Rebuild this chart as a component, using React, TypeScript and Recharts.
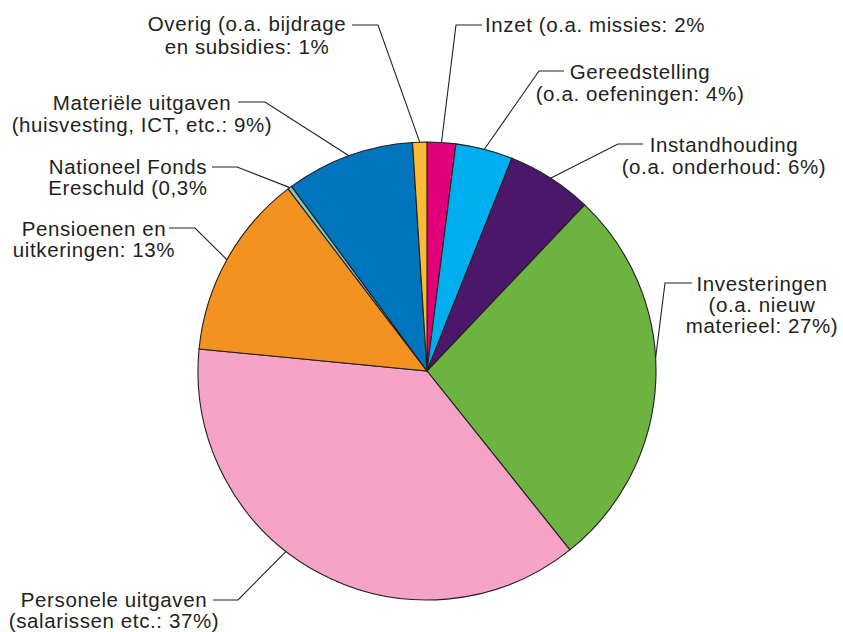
import React from 'react';
import { PieChart, Pie, Cell } from 'recharts';

const categories = [
  'Inzet',
  'Gereedstelling',
  'Instandhouding',
  'Investeringen',
  'Personele uitgaven',
  'Pensioenen en uitkeringen',
  'Nationeel Fonds Ereschuld',
  'Materiële uitgaven',
  'Overig',
];
const shares = [2, 4, 6, 27, 37, 13, 0.3, 9, 1];
const labelTexts = [
  ['Inzet (o.a. missies: 2%'],
  ['Gereedstelling', '(o.a. oefeningen: 4%)'],
  ['Instandhouding', '(o.a. onderhoud: 6%)'],
  ['Investeringen', '(o.a. nieuw', 'materieel: 27%)'],
  ['Personele uitgaven', '(salarissen etc.: 37%)'],
  ['Pensioenen en', 'uitkeringen: 13%'],
  ['Nationeel Fonds', 'Ereschuld (0,3%'],
  ['Materiële uitgaven', '(huisvesting, ICT, etc.: 9%)'],
  ['Overig (o.a. bijdrage', 'en subsidies: 1%'],
];

const colors = ['#e2007a', '#00aeef', '#4b176b', '#6db33f', '#f5a3c7', '#f39221', '#7fcdbb', '#0075be', '#fbba33'];

// leader line / label placement (page pixels)
const layout = [
  { elbow: [456, 25], end: [482, 25], tx: 595, ys: [24] },
  { elbow: [539, 71], end: [564, 71], tx: 640, ys: [71, 93] },
  { elbow: [618, 144], end: [643, 144], tx: 724, ys: [144, 166] },
  { elbow: [665, 283], end: [692, 283], tx: 762, ys: [283, 304, 325], angle: 3.3 },
  { elbow: [238, 600], end: [213, 600], tx: 114, ys: [599, 620], angle: -128 },
  { elbow: [195, 228], end: [169, 228], tx: 94, ys: [228, 249] },
  { elbow: [237, 167], end: [212, 167], tx: 128, ys: [166, 187] },
  { elbow: [265, 102], end: [238, 102], tx: 142, ys: [102, 124] },
  { elbow: [378, 25], end: [352, 25], tx: 247, ys: [23, 46] },
];

const data = categories.map((name, i) => ({ name, value: shares[i] }));

const RADIAN = Math.PI / 180;

const renderLabel = (props: any) => {
  const { cx, cy, midAngle, outerRadius, index } = props;
  const l = layout[index];
  const ang = l.angle !== undefined ? l.angle : midAngle;
  const px = cx + Math.cos(-ang * RADIAN) * outerRadius;
  const py = cy + Math.sin(-ang * RADIAN) * outerRadius;
  return (
    <g key={`lbl-${index}`}>
      <polyline
        points={`${px},${py} ${l.elbow[0]},${l.elbow[1]} ${l.end[0]},${l.end[1]}`}
        fill="none"
        stroke="#231f20"
        strokeWidth={1.1}
      />
      {labelTexts[index].map((t, j) => (
        <text
          key={j}
          x={l.tx}
          y={l.ys[j]}
          textAnchor="middle"
          dominantBaseline="central"
          fontFamily="'Liberation Sans', Arial, sans-serif"
          fontSize={20.5}
          letterSpacing={0.6}
          fill="#231f20"
        >
          {t}
        </text>
      ))}
    </g>
  );
};

export default function App() {
  return (
    <div style={{ position: 'absolute', left: 0, top: 0, width: 843, height: 632, background: '#fff' }}>
      <PieChart width={843} height={632} margin={{ top: 0, right: 0, bottom: 0, left: 0 }}>
        <Pie
          data={data}
          dataKey="value"
          nameKey="name"
          cx={427}
          cy={371}
          outerRadius={229}
          startAngle={90}
          endAngle={-270}
          stroke="#231f20"
          strokeWidth={1.1}
          label={renderLabel}
          labelLine={false}
          isAnimationActive={false}
        >
          {data.map((d, i) => (
            <Cell key={d.name} fill={colors[i]} />
          ))}
        </Pie>
      </PieChart>
    </div>
  );
}
